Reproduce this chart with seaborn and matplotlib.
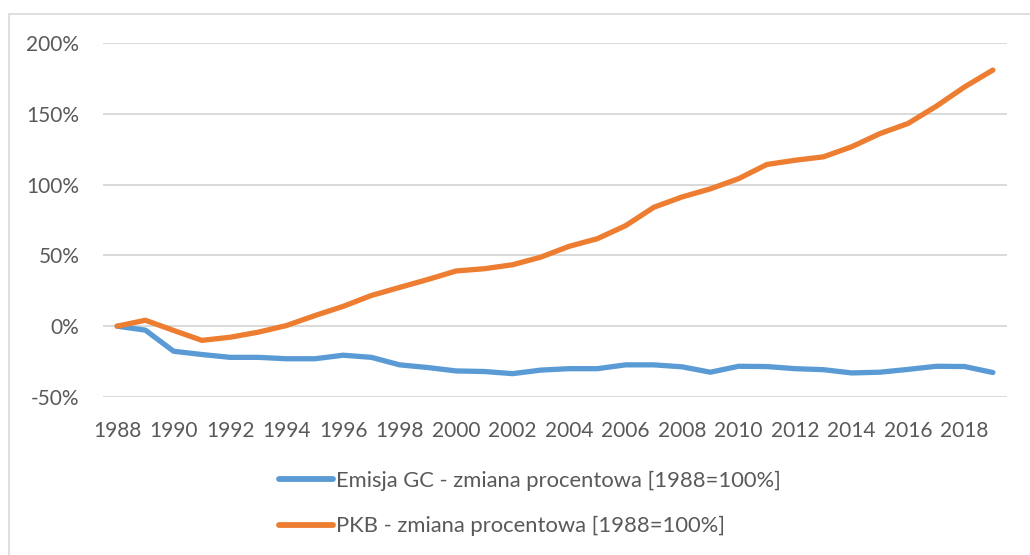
import matplotlib
matplotlib.use("Agg")
import matplotlib.pyplot as plt
import matplotlib.patches as mpatches
import seaborn as sns
import pandas as pd

# ---------------------------------------------------------------------------
years = list(range(1988, 2020))

emisja_gc = [0, -2.8, -17.7, -20, -22, -22, -23, -23, -20.5, -22,
             -27.3, -29.2, -31.6, -32, -33.5, -31, -30, -30, -27.3, -27.3,
             -28.7, -32.5, -28.3, -28.5, -30, -30.7, -33, -32.5, -30.5, -28.3,
             -28.5, -32.7]

pkb = [0, 4.2, -3, -10, -7.8, -4.2, 0.5, 7.5, 14, 21.7,
       27.4, 33, 39, 40.6, 43.4, 48.8, 56.4, 61.8, 71, 84,
       91.3, 97, 104.2, 114.2, 117.2, 119.6, 126.7, 136, 143.2, 155.4,
       169, 180.9]

series_names = ["Emisja GC - zmiana procentowa [1988=100%]",
                "PKB - zmiana procentowa [1988=100%]"]
y_ticks = [-50, 0, 50, 100, 150, 200]
x_ticks = list(range(1988, 2019, 2))

# ---------------------------------------------------------------------------
df = pd.DataFrame({
    "rok": years * 2,
    "wartosc": emisja_gc + pkb,
    "seria": [series_names[0]] * len(years) + [series_names[1]] * len(years),
})

sns.set_style("white")
plt.rcParams['font.family'] = ['Lato', 'DejaVu Sans']
text_color = "#595959"
colors = ["#5B9BD5", "#ED7D31"]

fig = plt.figure(figsize=(10.3, 5.55), dpi=100)
ax = fig.add_axes([103 / 1030, 1 - 397 / 555, (1007 - 103) / 1030, (397 - 43) / 555])

sns.lineplot(data=df, x="rok", y="wartosc", hue="seria",
             palette=colors, linewidth=3.8,
             solid_capstyle="round", ax=ax, legend=False)

ax.set_xlim(1987.5, 2019.5)
ax.set_ylim(-50, 200)
ax.set_xticks(x_ticks)
ax.set_yticks(y_ticks)
ax.set_yticklabels([f"{v}%" for v in y_ticks])
ax.tick_params(axis="both", length=0, labelsize=15, colors=text_color)
ax.tick_params(axis="y", pad=17)
ax.tick_params(axis="x", pad=17)
ax.grid(axis="y", color="#d9d9d9", linewidth=1.4)
ax.set_axisbelow(True)
for s in ax.spines.values():
    s.set_visible(False)
ax.set_xlabel("")
ax.set_ylabel("")

# obramowanie wykresu
fig.patches.append(mpatches.Rectangle((9 / 1030, -0.1), 1.2, 1 - 14 / 555 + 0.1,
                                      transform=fig.transFigure, fill=False,
                                      edgecolor="#d9d9d9", linewidth=1.2))

handles = [plt.Line2D([], [], color=c, linewidth=4.2, solid_capstyle="round")
           for c in colors]
leg = fig.legend(handles, series_names, loc="center",
                 bbox_to_anchor=(530 / 1030, 1 - 503.5 / 555),
                 frameon=False, fontsize=15.8, handlelength=2.45,
                 handletextpad=0.15, labelspacing=1.15)
for t in leg.get_texts():
    t.set_color(text_color)

fig.savefig("out.png", dpi=100)
